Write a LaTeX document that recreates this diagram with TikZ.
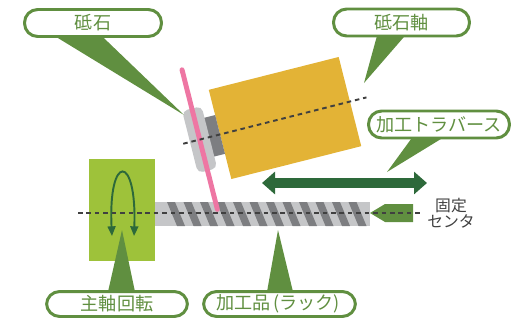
\documentclass[tikz,border=0pt]{standalone}
\usepackage{fontspec}
\setmainfont{Noto Sans CJK JP}
\usepackage{xcolor}
\usetikzlibrary{arrows.meta,positioning,calc}

\definecolor{lblgreen}{RGB}{96,143,64}
\definecolor{chuckgreen}{RGB}{158,194,58}
\definecolor{darkgreen}{RGB}{45,105,58}
\definecolor{gold}{RGB}{227,179,54}
\definecolor{wheelpink}{RGB}{238,118,163}
\definecolor{steel}{RGB}{197,198,200}
\definecolor{steeldark}{RGB}{125,126,129}
\definecolor{axisgray}{RGB}{64,64,64}

\begin{document}
\begin{tikzpicture}[x=0.02cm,y=-0.02cm,
  lbl/.style={draw=lblgreen,line width=1.7pt,fill=white,rounded corners=7.5pt,
    minimum height=0.54cm,inner sep=0pt,text=lblgreen,font=\fontsize{10.3}{12}\selectfont},
  callout/.style={fill=lblgreen},
  axisline/.style={axisgray,line width=1.1pt,dash pattern=on 2.6pt off 2.2pt}]
  \useasboundingbox (0,0) rectangle (513,321);
  % spindle chuck
  \fill[chuckgreen] (89,159) rectangle (155,261);
  % workpiece (rack) with thread stripes
  \fill[steel] (155,202) rectangle (370,226);
  \begin{scope}
    \clip (155,202) rectangle (370,226);
    \foreach \i in {0,...,11}
      \fill[steeldark] ({167+16.5*\i},202) -- ++(8,0) -- ++(10,24) -- ++(-8,0) -- cycle;
  \end{scope}
  % fixed centre
  \fill[lblgreen] (370,213) -- (385,204) -- (413,204) -- (413,222) -- (385,222) -- cycle;
  % work axis
  \draw[axisline] (78,213) -- (423,213);
  % rotation mark
  \draw[darkgreen,line width=1.1pt,{Triangle[length=5.5pt,width=4.5pt]}-{Triangle[length=5.5pt,width=4.5pt]}]
    (112,236) .. controls (108,153) and (137,153) .. (134,236);
  % wheel head, tilted
  \begin{scope}[shift={(285,118)},rotate=14.2]
    \fill[gold] (-67,-46) rectangle (67,46);
    \fill[steeldark] (-82,-20) rectangle (-67,20);
    \fill[steel,rounded corners=3pt] (-98,-32) rectangle (-78,32);
    \draw[wheelpink,line width=2.8pt,line cap=round] (-88,-72) -- (-88,72);
    \draw[axisline] (-105,0) -- (84,0);
  \end{scope}
  % traverse
  \coordinate (travL) at (262,183);
  \coordinate (travR) at (427,183);
  \draw[darkgreen,line width=5.7pt,{Triangle[length=7.4pt,width=12.5pt]}-{Triangle[length=7.4pt,width=12.5pt]}]
    (travL) -- (travR);
  % labels
  \node[lbl,minimum width=2.74cm] (wheel) at (93,23) {砥石};
  \node[lbl,minimum width=2.72cm] (shaft) at (401.5,22.5) {砥石軸};
  \node[lbl,minimum width=2.82cm] (trav) at (439,124.5) {加工トラバース};
  \node[lbl,minimum width=2.82cm,minimum height=0.5cm] (spin) at (117,304) {主軸回転};
  \node[lbl,minimum width=3.04cm,minimum height=0.5cm] (rack) at (279.5,304) {加工品\,(ラック)\,};
  % callout tips
  \coordinate (wheeltip) at (184,115);
  \coordinate (shafttip) at (364,83);
  \coordinate (travtip) at (387,172);
  \coordinate (spintip) at (122,230);
  \coordinate (racktip) at (278,230);
  \fill[callout] ([xshift=-0.76cm,yshift=1pt]wheel.south) -- (wheeltip) -- ([xshift=0.18cm,yshift=1pt]wheel.south) -- cycle;
  \fill[callout] ([xshift=-0.49cm,yshift=1pt]shaft.south) -- (shafttip) -- ([xshift=0.07cm,yshift=1pt]shaft.south) -- cycle;
  \fill[callout] ([xshift=-0.54cm,yshift=1pt]trav.south) -- (travtip) -- ([xshift=0.08cm,yshift=1pt]trav.south) -- cycle;
  \fill[callout] ([xshift=-0.18cm,yshift=-1pt]spin.north) -- (spintip) -- ([xshift=0.36cm,yshift=-1pt]spin.north) -- cycle;
  \fill[callout] ([xshift=-0.25cm,yshift=-1pt]rack.north) -- (racktip) -- ([xshift=0.27cm,yshift=-1pt]rack.north) -- cycle;
  % fixed centre text
  \node[align=center,text=axisgray,font=\fontsize{9}{9.4}\selectfont] (centre) at (451,213) {固定\\センタ};
\end{tikzpicture}
\end{document}
